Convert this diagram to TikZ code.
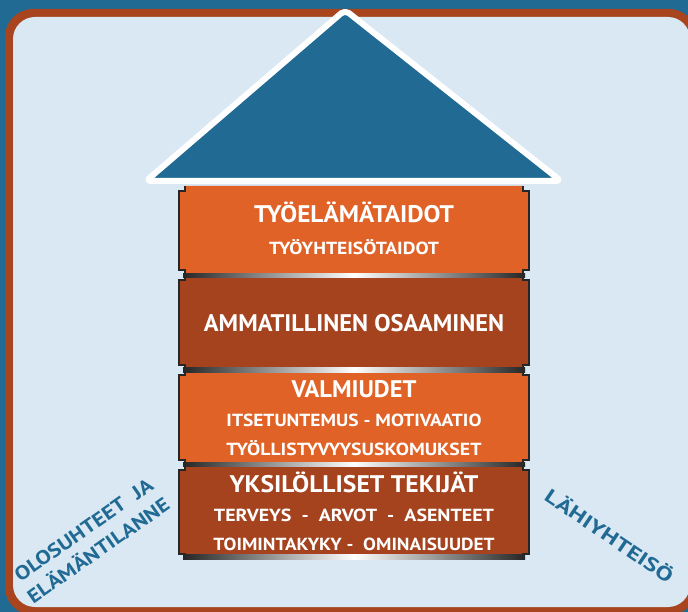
\documentclass[tikz,border=0pt]{standalone}
\usepackage{fontspec}
\setmainfont{PT Sans}
\usepackage{graphicx}
\definecolor{bgblue}{HTML}{216A94}
\definecolor{bordbrown}{HTML}{A8451F}
\definecolor{lightbg}{HTML}{D9E8F3}
\definecolor{orangeblk}{HTML}{E06226}
\definecolor{brownblk}{HTML}{A5431F}
\definecolor{edgedark}{HTML}{262626}
\newcommand{\fw}[2]{\resizebox{#1}{\height}{#2}}
\newcommand{\blk}[5]{%
  \fill[#5] (#1+6,#2) -- (#3-6,#2) -- (#3-6,#2+5) -- (#3,#2+5) -- (#3,#4-5) -- (#3-6,#4-5) -- (#3-6,#4) -- (#1+6,#4) -- (#1+6,#4-5) -- (#1,#4-5) -- (#1,#2+5) -- (#1+6,#2+5) -- cycle;
  \draw[edge] (#1+6,#2) -- (#1+6,#2+5) -- (#1,#2+5) -- (#1,#4-5) -- (#1+6,#4-5) -- (#1+6,#4);
  \draw[edge] (#3-6,#2) -- (#3-6,#2+5) -- (#3,#2+5) -- (#3,#4-5) -- (#3-6,#4-5) -- (#3-6,#4);
}
\newcommand{\sep}[3]{%
  \shade[left color=edgedark, right color=edgedark, middle color=white] (#1+4,#3-2.2) rectangle (#2-4,#3+2.2);
}
\begin{document}
\begin{tikzpicture}[x=1pt,y=-1pt,
  edge/.style={draw=edgedark, line width=2pt, line join=miter},
  title/.style={text=white, font=\bfseries\fontsize{24}{28}\selectfont, inner sep=0pt, anchor=base},
  sub/.style={text=white, font=\bfseries\fontsize{17.5}{20}\selectfont, inner sep=0pt, anchor=base},
  diag/.style={text=bgblue, font=\bfseries\fontsize{19.5}{25.5}\selectfont, align=center, inner sep=0pt}]
\useasboundingbox (0,0) rectangle (688,612);
\clip (0,0) rectangle (688,612);
\fill[bgblue] (0,0) rectangle (688,612);
\fill[bordbrown, rounded corners=28pt] (5,9) rectangle (697,615);
\fill[lightbg, rounded corners=22pt] (13,17) rectangle (690,607);
% roof
\draw[white, line width=6pt, fill=bgblue, rounded corners=5pt, line join=round] (146,181) -- (345,10) -- (561,181) -- cycle;
% blocks
\blk{179}{186}{529}{275}{orangeblk}
\blk{179}{275}{529}{370}{brownblk}
\blk{179}{370}{529}{465}{orangeblk}
\blk{179}{465}{529}{559}{brownblk}
\sep{179}{529}{275.5}
\sep{179}{529}{370}
\sep{179}{529}{464.5}
\sep{179}{529}{557}
% texts
\node[title] (t1) at (354,223) {\fw{200pt}{TYÖELÄMÄTAIDOT}};
\node[sub] (t1b) at (354,255) {\fw{170pt}{TYÖYHTEISÖTAIDOT}};
\node[title] (t2) at (354,331) {\fw{300pt}{AMMATILLINEN OSAAMINEN}};
\node[title] (t3) at (354,397) {\fw{125pt}{VALMIUDET}};
\node[sub] (t3b) at (354,426) {\fw{255pt}{ITSETUNTEMUS - MOTIVAATIO}};
\node[sub] (t3c) at (354,455) {\fw{255pt}{TYÖLLISTYVYYSUSKOMUKSET}};
\node[title] (t4) at (354,492) {\fw{249pt}{YKSILÖLLISET TEKIJÄT}};
\node[sub] (t4b) at (354,521) {\fw{280pt}{TERVEYS\ \ -\ \ ARVOT\ \ -\ \ ASENTEET}};
\node[sub] (t4c) at (354,550) {\fw{281pt}{TOIMINTAKYKY -\ \ OMINAISUUDET}};
% side labels
\node[diag, rotate=35] (left) at (91,540) {\fw{164pt}{OLOSUHTEET\ \ JA}\\\fw{168pt}{ELÄMÄNTILANNE}};
\node[diag, rotate=-34] (right) at (610,535) {\fw{150pt}{LÄHIYHTEISÖ}};
\end{tikzpicture}
\end{document}
